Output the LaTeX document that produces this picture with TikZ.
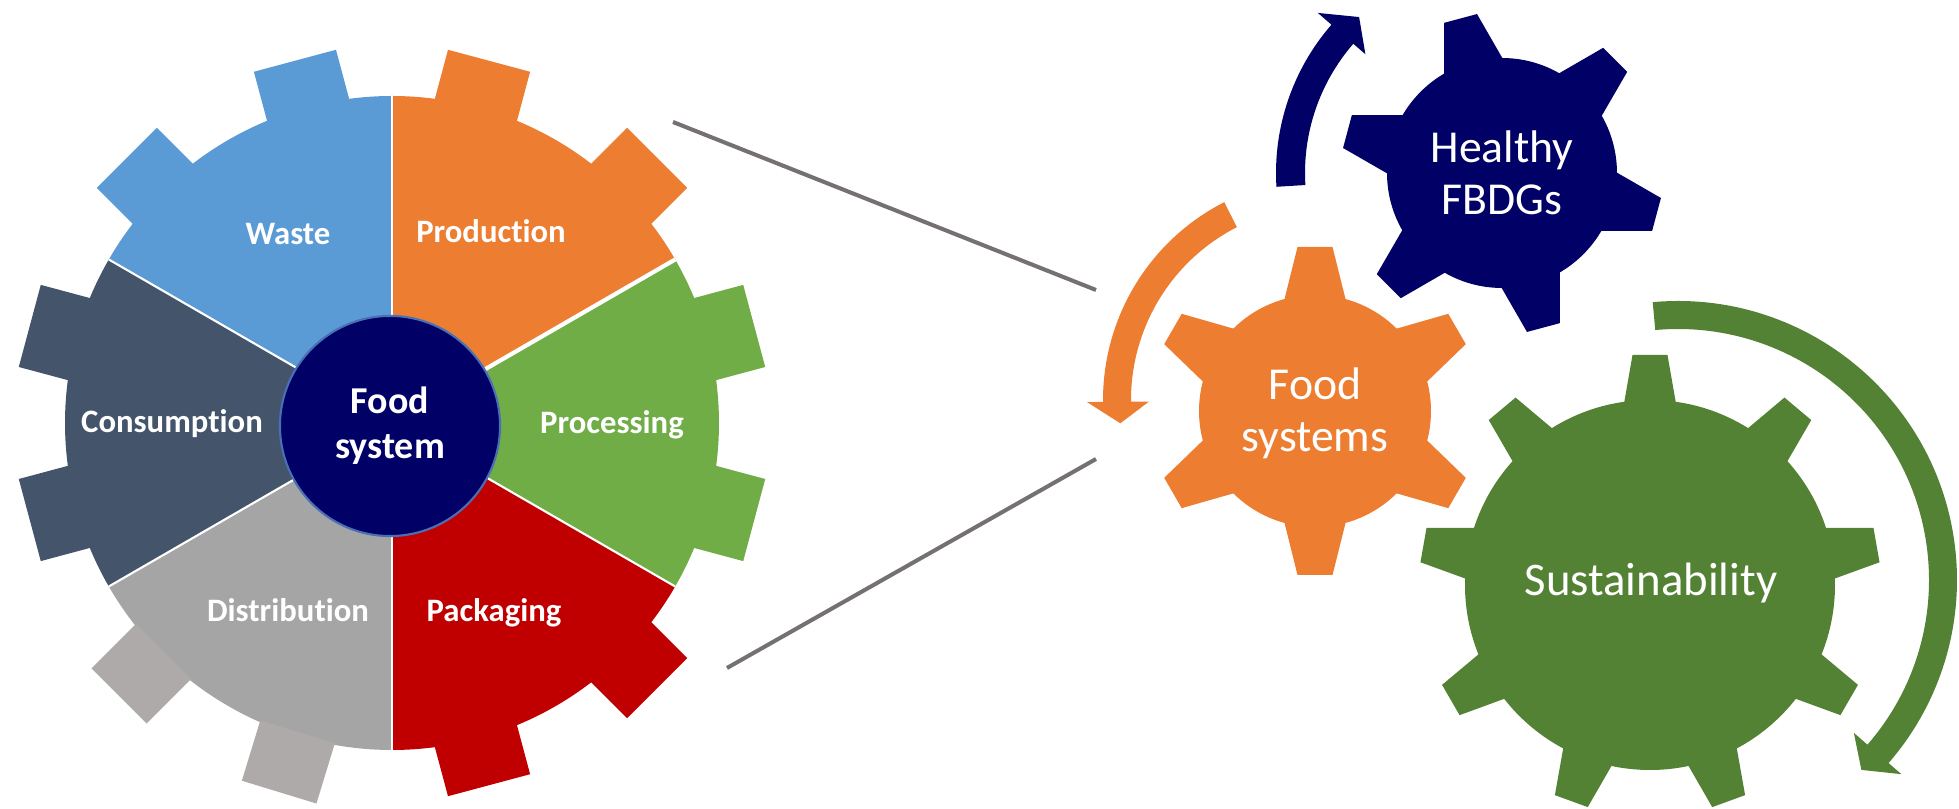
\documentclass[tikz,border=0pt]{standalone}
\usepackage{fontspec}
\setmainfont[Ligatures=NoCommon]{Carlito}
\definecolor{wastecol}{HTML}{5B9BD5}
\definecolor{prodcol}{HTML}{ED7D31}
\definecolor{proccol}{HTML}{70AD47}
\definecolor{packcol}{HTML}{C00000}
\definecolor{distcol}{HTML}{A5A5A5}
\definecolor{disttooth}{HTML}{AEAAAA}
\definecolor{conscol}{HTML}{44546A}
\definecolor{navy}{HTML}{000066}
\definecolor{ringcol}{HTML}{4A6FB5}
\definecolor{linkgray}{HTML}{767171}
\definecolor{leafgreen}{HTML}{548235}

\begin{document}
\begin{tikzpicture}[x=0.01cm,y=0.01cm,
  lbl/.style={text=white,font=\bfseries\fontsize{9.3}{11}\selectfont},
  rlbl/.style={text=white,align=center,font=\fontsize{13}{14.8}\selectfont},
  link/.style={draw=linkgray,line width=1.15pt},
  sep/.style={draw=white,line width=0.6pt}]
\useasboundingbox (0,0) rectangle (1959,809);

% big gear, one sector per stage
\begin{scope}[shift={(392,386)}]
  \foreach \c/\col in {60/prodcol,0/proccol,-60/packcol,180/conscol,120/wastecol}{
    \fill[\col] (0,0) -- (\c-30:327) arc[start angle=\c-30,end angle=\c+30,radius=327] -- cycle;
    \fill[\col,rotate=\c-15] (300,-42.5) rectangle (375,42.5);
    \fill[\col,rotate=\c+15] (300,-42.5) rectangle (375,42.5);
  }
  \fill[distcol] (0,0) -- (-150:327) arc[start angle=-150,end angle=-90,radius=327] -- cycle;
  \fill[disttooth,rotate=-135] (323,-39) rectangle (386,39);
  \fill[disttooth,rotate=-107] (323,-39) rectangle (386,39);
  \foreach \a in {90,-30,-90,-150,150}
    \draw[sep] (0,0) -- (\a:327);
  \draw[sep,line width=1.2pt] (0,0) -- (30:327);
\end{scope}
\path (390,383) node[circle,fill=navy,draw=ringcol,line width=0.6pt,minimum size=2.2cm,
  text=white,align=center,font=\bfseries\fontsize{10.8}{12.8}\selectfont] (hub) {Food\\system};

\path (288,564) node[lbl,anchor=base] (waste) {Waste};
\path (491,566) node[lbl,anchor=base] (prod) {Production};
\path (612,375) node[lbl,anchor=base] (proc) {Processing};
\path (494,187) node[lbl,anchor=base] (pack) {Packaging};
\path (288,187) node[lbl,anchor=base] (dist) {Distribution};
\path (172,376) node[lbl,anchor=base] (cons) {Consumption};

% zoom lines
\coordinate (linkA) at (673,687);
\coordinate (linkB) at (1096,519);
\coordinate (linkC) at (727,141);
\coordinate (linkD) at (1096,350);
\draw[link] (linkA) -- (linkB);
\draw[link] (linkC) -- (linkD);

% healthy gear
\begin{scope}[shift={(1502,636)}]
  \fill[navy] (0,0) circle (115);
  \foreach \a in {45,105,...,345}
    \fill[navy,rotate=\a] (100,-33) -- (160,-17) -- (160,17) -- (100,33) -- cycle;
  \fill[navy] (183.5:226) arc[start angle=183.5,end angle=139,radius=226]
    -- (139:244) -- (132.5:211.5) -- (139:181) -- (139:197)
    arc[start angle=139,end angle=183.5,radius=197] -- cycle;
\end{scope}

% food systems gear
\begin{scope}[shift={(1315,398)}]
  \fill[prodcol] (0,0) circle (116);
  \foreach \a in {30,90,...,330}
    \fill[prodcol,rotate=\a] (100,-33.5) -- (164,-17.5) -- (164,17.5) -- (100,33.5) -- cycle;
\end{scope}
\begin{scope}[shift={(1325,409)}]
  \fill[prodcol] (117:222) arc[start angle=117,end angle=180.5,radius=222]
    -- (180.5:238) -- (186.5:206) -- (180.5:176) -- (180.5:194)
    arc[start angle=180.5,end angle=117,radius=194] -- cycle;
\end{scope}

% sustainability gear
\begin{scope}[shift={(1650,224)}]
  \fill[leafgreen] (0,0) circle (185);
  \foreach \a in {10,50,...,330}
    \fill[leafgreen,rotate=\a] (170,-28) -- (230,-17.5) -- (230,17.5) -- (170,28) -- cycle;
\end{scope}
\begin{scope}[shift={(1678,229)}]
  \fill[leafgreen] (95.2:279) arc[start angle=95.2,end angle=-41,radius=279]
    -- (-41:296) -- (-46:264) -- (-41:233) -- (-41:251)
    arc[start angle=-41,end angle=95.2,radius=251] -- cycle;
\end{scope}

\path (1502,636) node[rlbl] (healthy) {Healthy\\FBDGs};
\path (1315,396) node[rlbl] (foodsys) {Food\\systems};
\path (1651,213) node[rlbl,anchor=base,font=\fontsize{13.3}{15}\selectfont] (sustain) {Sustainability};
\end{tikzpicture}
\end{document}
